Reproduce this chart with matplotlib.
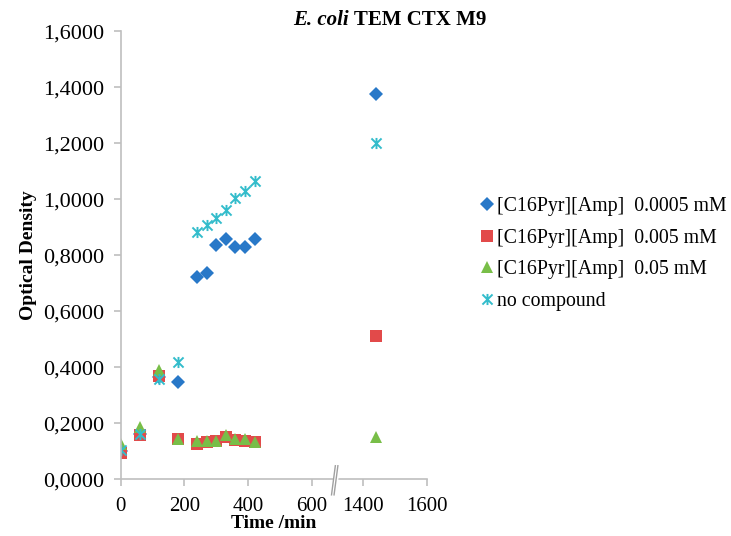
import matplotlib
matplotlib.use('Agg')
import matplotlib.pyplot as plt
import matplotlib.transforms as mtransforms
from matplotlib.path import Path
from matplotlib.ticker import FuncFormatter
import numpy as np

plt.rcParams['font.family'] = ['Liberation Serif', 'DejaVu Serif']

# time points (min)
time = [0, 60, 120, 180, 240, 270, 300, 330, 360, 390, 420, 1440]

od_00005 = [0.100, 0.160, 0.365, 0.348, 0.721, 0.737, 0.835, 0.857, 0.829, 0.830, 0.858, 1.375]
od_0005 = [0.092, 0.157, 0.368, 0.143, 0.127, 0.133, 0.136, 0.150, 0.140, 0.138, 0.133, 0.511]
od_005 = [0.125, 0.188, 0.390, 0.143, 0.136, 0.136, 0.138, 0.156, 0.145, 0.144, 0.131, 0.150]
od_none = [0.104, 0.163, 0.357, 0.419, 0.883, 0.906, 0.932, 0.961, 1.005, 1.029, 1.064, 1.200]

labels = ['[C16Pyr][Amp]  0.0005 mM', '[C16Pyr][Amp]  0.005 mM',
          '[C16Pyr][Amp]  0.05 mM', 'no compound']
xtick_vals = [0, 200, 400, 600, 1400, 1600]

BREAK_AT = 700
SHIFT = 640


def brk(t):
    t = np.asarray(t, dtype=float)
    return np.where(t > BREAK_AT, t - SHIFT, t)


# excel style star: an x with a vertical bar
star = Path([(-1, -1), (1, 1), (-1, 1), (1, -1), (0, -1.1), (0, 1.1)],
            [Path.MOVETO, Path.LINETO, Path.MOVETO, Path.LINETO, Path.MOVETO, Path.LINETO])

fig = plt.figure(figsize=(7.31, 5.36), dpi=100)
ax = fig.add_axes([0.165, 0.106, 0.419, 0.836])

x = brk(time)
ax.plot(x, od_00005, 'D', color='#2878C8', ms=7, mew=0, label=labels[0])
ax.plot(x, od_0005, 's', color='#E24A4A', ms=8.5, mew=0, label=labels[1])
ax.plot(x, od_005, '^', color='#78BE48', ms=9, mew=0, label=labels[2])
ax.plot(x, od_none, ls='none', marker=star, color='#33BCCB', ms=8, mew=1.4, label=labels[3])

ax.set_xlim(0, 960)
ax.set_ylim(0, 1.6)
ax.set_xticks(brk(xtick_vals))
ax.set_xticklabels([str(v) for v in xtick_vals])
ax.set_yticks(np.arange(0, 1.61, 0.2))
ax.yaxis.set_major_formatter(FuncFormatter(lambda v, p: f'{v:.4f}'.replace('.', ',')))

for s in ['top', 'right']:
    ax.spines[s].set_visible(False)
for s in ['left', 'bottom']:
    ax.spines[s].set_color('#BFBFBF')
    ax.spines[s].set_linewidth(1.2)
ax.tick_params(colors='#BFBFBF', labelcolor='black', length=5, width=1.2)
ax.tick_params(axis='x', pad=8, labelsize=15)
ax.tick_params(axis='y', pad=7, labelsize=16)

ax.set_xlabel('Time /min', fontsize=14, fontweight='bold', labelpad=-1)
ax.set_ylabel('Optical Density', fontsize=14, fontweight='bold', labelpad=4)

# axis break marks
trans = mtransforms.blended_transform_factory(ax.transData, ax.transAxes)
bx = brk(673)
ax.fill([bx - 8, bx + 2, bx + 12, bx + 2], [-0.035, -0.035, 0.03, 0.03], color='white',
        transform=trans, clip_on=False, zorder=5)
for dx in (-4, 4):
    ax.plot([bx + dx - 8, bx + dx + 4], [-0.035, 0.03], color='#A0A0A0', lw=1.0,
            transform=trans, clip_on=False, zorder=6)

fig.text(0.4775, 0.962, 'E. coli', fontsize=15, fontweight='bold', fontstyle='italic',
         ha='right', va='center')
fig.text(0.4775, 0.962, ' TEM CTX M9', fontsize=15, fontweight='bold', ha='left', va='center')

ax.legend(loc='upper left', bbox_to_anchor=(0.6525, 0.632), bbox_transform=fig.transFigure,
          frameon=False, fontsize=14.3, handletextpad=0.0, handlelength=1.0,
          labelspacing=0.63, borderaxespad=0, borderpad=0)

fig.savefig('out.png', dpi=100)
